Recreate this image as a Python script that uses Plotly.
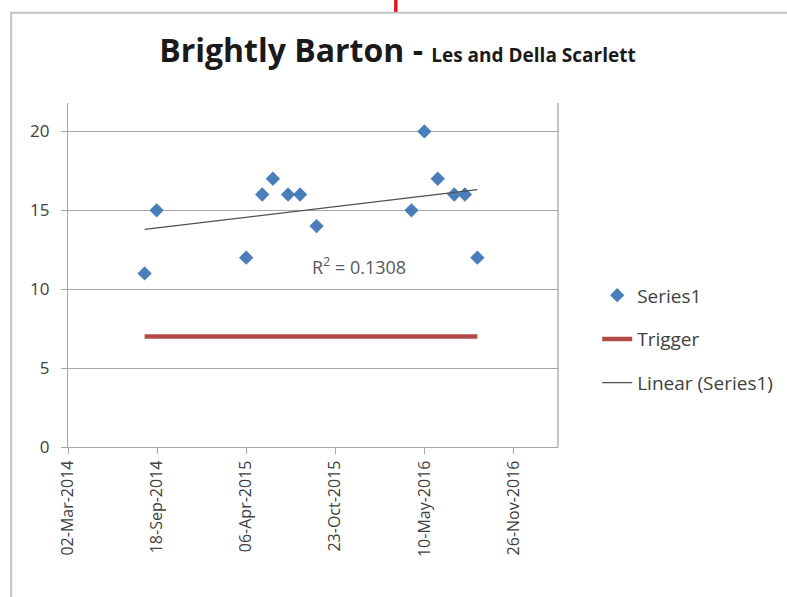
import numpy as np
import pandas as pd
import plotly.graph_objects as go

# Sample dates and readings
sample_dates = [
    "2014-08-21", "2014-09-17", "2015-04-06", "2015-05-12", "2015-06-05",
    "2015-07-09", "2015-08-05", "2015-09-11", "2016-04-11", "2016-05-10",
    "2016-06-09", "2016-07-16", "2016-08-09", "2016-09-06",
]
readings = [11, 15, 12, 16, 17, 16, 16, 14, 15, 20, 17, 16, 16, 12]

trigger_level = 7
r_squared_label = "R<sup>2</sup> = 0.1308"

x_tick_dates = ["2014-03-02", "2014-09-18", "2015-04-06",
                "2015-10-23", "2016-05-10", "2016-11-26"]
x_range = ["2014-03-02", "2017-03-06"]
y_ticks = [0, 5, 10, 15, 20]
y_range = [0, 21.8]

FONT = "'Open Sans', Lato, sans-serif"
GRID = "#a6a6a6"
TEXT = "#404040"

dates = pd.to_datetime(sample_dates)
days = (dates - dates[0]).days.to_numpy(dtype=float)
slope, intercept = np.polyfit(days, readings, 1)
trend_x = [dates[0], dates[-1]]
trend_y = [intercept, intercept + slope * days[-1]]

fig = go.Figure()

fig.add_trace(go.Scatter(
    x=dates, y=readings, mode="markers", name="Series1",
    marker=dict(symbol="diamond", size=11, color="#4a7ebb"),
    legendgroup="a",
))
fig.add_trace(go.Scatter(
    x=[dates[0], dates[-1]], y=[trigger_level, trigger_level],
    mode="lines", name="Trigger",
    line=dict(color="#b04a47", width=4.5),
    legendgroup="b",
))
fig.add_trace(go.Scatter(
    x=trend_x, y=trend_y, mode="lines", name="Linear (Series1)",
    line=dict(color="#505050", width=1.2),
    legendgroup="c",
))

fig.add_annotation(
    x=0.594, y=0.527, xref="x domain", yref="y domain",
    text=r_squared_label, showarrow=False,
    font=dict(family=FONT, size=18, color="#595959"),
)

# chart frame, right edge of plot area, and the small red marker on top
fig.add_shape(type="rect", xref="paper", yref="paper",
              x0=-0.116, x1=1.6, y0=-0.44, y1=1.262,
              line=dict(color="#c4c4c4", width=2), fillcolor="rgba(0,0,0,0)",
              layer="below")
fig.add_shape(type="line", xref="x domain", yref="y domain",
              x0=1, x1=1, y0=0, y1=1,
              line=dict(color=GRID, width=1.3))
fig.add_shape(type="rect", xref="paper", yref="paper",
              x0=0.6655, x1=0.6725, y0=1.265, y1=1.31,
              line=dict(width=0), fillcolor="#e8101a")

fig.update_layout(
    width=787, height=597,
    margin=dict(l=68, r=229, t=103, b=150, autoexpand=False),
    paper_bgcolor="white", plot_bgcolor="white",
    font=dict(family=FONT, color=TEXT, size=14),
    title=dict(
        text="<b>Brightly Barton - </b><span style='font-size:19px'><b>Les and Della Scarlett</b></span>",
        x=0.505, xref="container", xanchor="center",
        y=0.915, yref="container", yanchor="middle",
        font=dict(family=FONT, size=32, color="#1a1a1a"),
    ),
    showlegend=True,
    legend=dict(
        x=1.08, xanchor="left", y=0.313, yanchor="middle",
        bgcolor="rgba(0,0,0,0)", traceorder="grouped",
        tracegroupgap=16, font=dict(family=FONT, size=19, color=TEXT),
    ),
)

fig.update_xaxes(
    type="date", range=x_range,
    tickmode="array", tickvals=x_tick_dates, tickformat="%d-%b-%Y",
    tickangle=-90, ticks="outside", ticklen=6, tickcolor=GRID,
    showline=True, linecolor=GRID, linewidth=1.3,
    showgrid=False, zeroline=False,
    tickfont=dict(family=FONT, size=16, color=TEXT),
)
fig.update_yaxes(
    range=y_range, tickmode="array", tickvals=y_ticks,
    ticks="outside", ticklen=6, tickcolor=GRID,
    showline=True, linecolor=GRID, linewidth=1.3,
    showgrid=True, gridcolor=GRID, gridwidth=1.3,
    zeroline=False, ticklabelstandoff=8,
    tickfont=dict(family=FONT, size=17, color=TEXT),
)

fig.write_html("out.html")
